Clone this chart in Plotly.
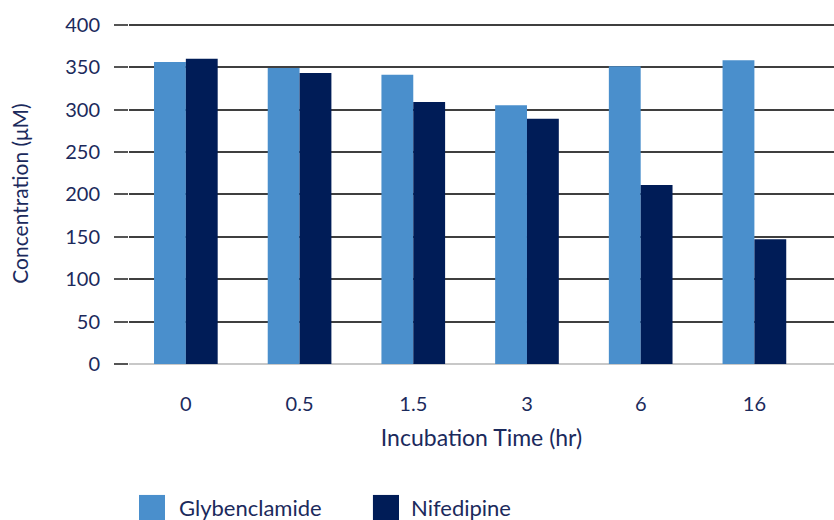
import plotly.graph_objects as go

times = ["0", "0.5", "1.5", "3", "6", "16"]
glybenclamide = [356, 349, 341, 305, 351, 358]
nifedipine = [360, 343, 309, 289, 211, 147]
y_ticks = [0, 50, 100, 150, 200, 250, 300, 350, 400]
series_names = ["Glybenclamide", "Nifedipine"]

LIGHT = "#4a8fcc"
DARK = "#001c57"
TEXT = "#1b2a5c"
FONT = "Lato, 'Open Sans', sans-serif"
colors = [LIGHT, DARK]

fig = go.Figure()
fig.add_trace(go.Bar(x=times, y=glybenclamide, name=series_names[0],
                     marker=dict(color=LIGHT, line=dict(width=0))))
fig.add_trace(go.Bar(x=times, y=nifedipine, name=series_names[1],
                     marker=dict(color=DARK, line=dict(width=0))))

# Manual legend with large square swatches
legend_items = [(0.0142, 0.0511, 0.0680), (0.346, 0.383, 0.3970)]
for (x0, x1, tx), nm, col in zip(legend_items, series_names, colors):
    fig.add_shape(type="rect", xref="paper", yref="paper", x0=x0, x1=x1,
                  y0=-0.4575, y1=-0.384, fillcolor=col, line=dict(width=0))
    fig.add_annotation(xref="paper", yref="paper", x=tx, y=-0.422, text=nm,
                       showarrow=False, xanchor="left", yanchor="middle",
                       font=dict(size=22, color=TEXT))

fig.update_layout(
    width=834, height=520,
    margin=dict(l=129, r=0, t=23, b=156),
    paper_bgcolor="white", plot_bgcolor="white",
    barmode="group", bargap=0.44, bargroupgap=0,
    showlegend=False,
    font=dict(family=FONT, color=TEXT, size=18),
    xaxis=dict(
        type="category", range=[-0.5, 5.7],
        showgrid=False, showline=False, zeroline=False, ticks="",
        tickfont=dict(size=20, color=TEXT), ticklabelstandoff=26,
        title=dict(text="Incubation Time (hr)", font=dict(size=23, color=TEXT), standoff=15),
    ),
    yaxis=dict(
        range=[0, 402], tickvals=y_ticks,
        showgrid=True, gridcolor="#3f3f3f", gridwidth=1.5,
        zeroline=True, zerolinecolor="#c8c8c8", zerolinewidth=2,
        showline=False, ticks="outside", ticklen=14, tickcolor="#555555", tickwidth=1.5,
        tickfont=dict(size=20, color=TEXT), ticklabelstandoff=10,
        title=dict(text="Concentration (μM)", font=dict(size=21, color=TEXT), standoff=30),
    ),
)

fig.write_html("out.html", config={"displayModeBar": False},
               post_script="document.body.style.margin='0';")
